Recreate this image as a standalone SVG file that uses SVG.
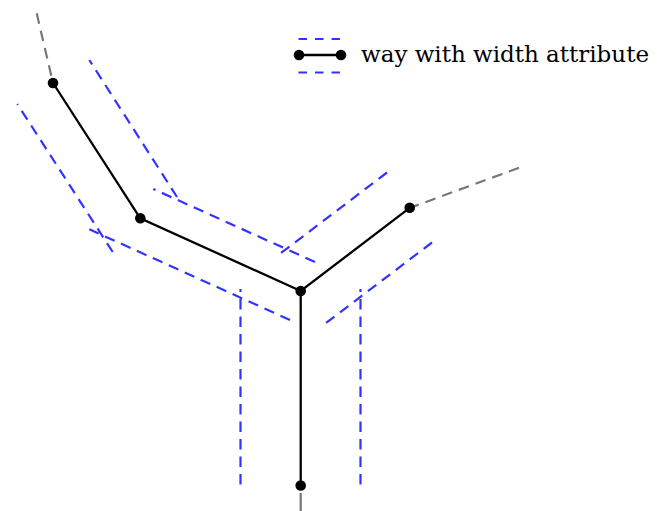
<svg xmlns="http://www.w3.org/2000/svg" width="657" height="511" viewBox="0 0 657 511">
<style>
.w{fill:none;stroke:#3333ff;stroke-width:2.2;stroke-dasharray:10.5 7}
.g{fill:none;stroke:#777;stroke-width:2.2;stroke-dasharray:10.7 7.1}
.way{fill:none;stroke:#000;stroke-width:2.3}
.n{fill:#000}
.lbl{font-family:"DejaVu Serif",serif;font-size:23px;fill:#000}
</style>
<g id="connectors">
<path class="g" d="M36.7 13.3 L53 83"/>
<path class="g" d="M519 167.8 L409.5 208"/>
<path fill="none" stroke="#777" stroke-width="2.2" d="M300.7 493 L300.7 511"/>
<path class="way" d="M53 83 L140.3 218.3 L300.7 291 L409.7 207.8"/>
<path class="way" d="M300.7 291 L300.7 485.5"/>
</g>
<g id="widths">
<path class="w" d="M112.7 252 L17.3 104"/>
<path class="w" d="M177 197 L89.3 60"/>
<path class="w" d="M315 262 L153.3 189"/>
<path class="w" d="M290 320 L89.3 229.3"/>
<path class="w" d="M387 172.5 L281 253"/>
<path class="w" d="M432 242.5 L326 323"/>
<path class="w" d="M240.5 484.5 L240.5 289"/>
<path class="w" d="M360.5 484.5 L360.5 289"/>
</g>
<g id="nodeA"><circle class="n" cx="53" cy="83" r="5.3"/></g>
<g id="nodeB"><circle class="n" cx="140.3" cy="218.3" r="5.3"/></g>
<g id="nodeC"><circle class="n" cx="300.7" cy="291" r="5.3"/></g>
<g id="nodeD"><circle class="n" cx="409.7" cy="207.8" r="5.3"/></g>
<g id="nodeE"><circle class="n" cx="300.7" cy="485.5" r="5.3"/></g>
<g id="legend">
<path fill="none" stroke="#3333ff" stroke-width="2.2" stroke-dasharray="8.5 8" d="M298.5 39 L341 39 M298.5 72.5 L341 72.5"/>
<path class="way" d="M299 55 L341 55"/>
<circle class="n" cx="299" cy="55" r="5.3"/>
<circle class="n" cx="341" cy="55" r="5.3"/>
<text class="lbl" x="361" y="62" textLength="288">way with width attribute</text>
</g>
</svg>
